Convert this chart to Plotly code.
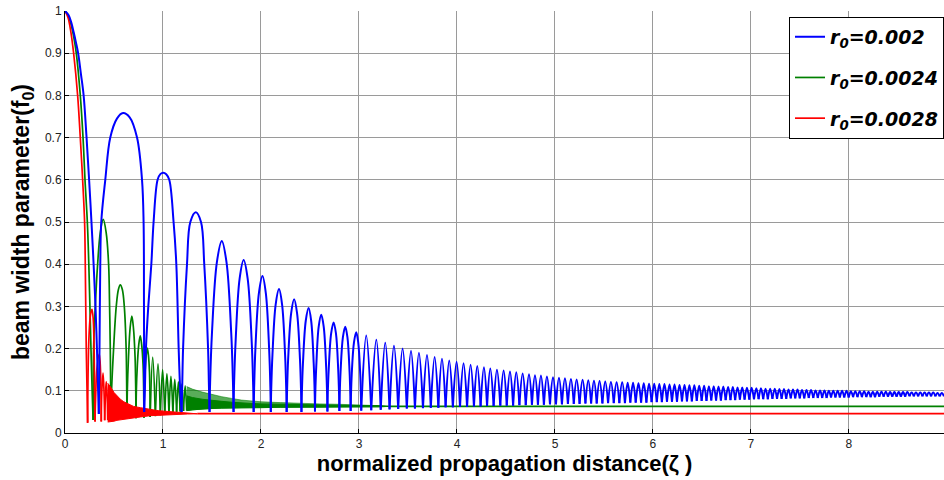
import plotly.graph_objects as go

# ---------------- r0 = 0.002 (blue) ----------------
# opening fall and the first wide lobes, point by point
blue_zeta = [0.000, 0.037, 0.065, 0.088, 0.112, 0.134, 0.163, 0.190, 0.220, 0.246, 0.270, 0.292, 0.311, 0.326, 0.338, 0.345,
             0.352, 0.360, 0.370, 0.411, 0.462, 0.530, 0.592, 0.660, 0.735, 0.786, 0.802, 0.806, 0.808,
             0.815, 0.826, 0.850, 0.881, 0.904, 0.945, 0.975, 1.003, 1.033, 1.064, 1.108, 1.136, 1.160, 1.176, 1.190,
             1.197, 1.205, 1.245, 1.279, 1.335, 1.388, 1.421, 1.460, 1.468, 1.475,
             1.481, 1.500, 1.550, 1.600, 1.648, 1.696, 1.714, 1.720,
             1.725, 1.741, 1.782, 1.823, 1.864, 1.905, 1.920, 1.925,
             1.930, 1.943, 1.979, 2.015, 2.049, 2.083, 2.096, 2.100,
             2.104, 2.117, 2.150, 2.184, 2.215, 2.246, 2.258, 2.262,
             2.266, 2.277, 2.308, 2.338, 2.368, 2.398, 2.409, 2.413,
             2.417, 2.428, 2.457, 2.486, 2.512, 2.538, 2.548, 2.551,
             2.554, 2.564, 2.589, 2.615, 2.640, 2.665, 2.675, 2.678,
             2.681, 2.691, 2.716, 2.741, 2.765, 2.788, 2.797, 2.800,
             2.803, 2.812, 2.836, 2.860, 2.882, 2.904, 2.912, 2.915,
             2.918, 2.926, 2.949, 2.972, 2.992, 3.013, 3.020, 3.023]
blue_f0 = [1.000, 0.990, 0.972, 0.950, 0.925, 0.900, 0.850, 0.800, 0.700, 0.600, 0.500, 0.400, 0.300, 0.200, 0.100, 0.045,
           0.200, 0.400, 0.500, 0.600, 0.700, 0.745, 0.758, 0.748, 0.700, 0.600, 0.500, 0.300, 0.050,
           0.100, 0.200, 0.300, 0.400, 0.500, 0.600, 0.614, 0.617, 0.613, 0.600, 0.500, 0.400, 0.200, 0.100, 0.050,
           0.120, 0.200, 0.400, 0.500, 0.523, 0.500, 0.400, 0.200, 0.120, 0.050,
           0.120, 0.238, 0.405, 0.455, 0.405, 0.238, 0.120, 0.050,
           0.113, 0.217, 0.366, 0.410, 0.366, 0.217, 0.113, 0.050,
           0.106, 0.200, 0.332, 0.372, 0.332, 0.200, 0.106, 0.050,
           0.100, 0.185, 0.305, 0.341, 0.305, 0.185, 0.100, 0.050,
           0.097, 0.174, 0.284, 0.317, 0.284, 0.174, 0.097, 0.050,
           0.093, 0.164, 0.266, 0.296, 0.266, 0.164, 0.093, 0.051,
           0.091, 0.157, 0.252, 0.280, 0.252, 0.157, 0.091, 0.051,
           0.089, 0.150, 0.236, 0.262, 0.236, 0.150, 0.089, 0.052,
           0.087, 0.145, 0.227, 0.252, 0.227, 0.145, 0.087, 0.052,
           0.085, 0.139, 0.215, 0.239, 0.215, 0.139, 0.085, 0.053]

# later lobe tops
blue_peak_zeta = [3.074, 3.177, 3.268, 3.357, 3.445, 3.531, 3.612, 3.694, 3.772, 3.847, 3.921, 3.996,
                  4.067, 4.139, 4.207, 4.275, 4.340, 4.408, 4.476, 4.541, 4.605, 4.670, 4.735, 4.796,
                  4.857, 4.918, 4.980, 5.041, 5.102, 5.163, 5.221, 5.282, 5.340, 5.398, 5.455, 5.513,
                  5.571, 5.629, 5.686, 5.742, 5.797, 5.852, 5.906, 5.960, 6.013, 6.065, 6.117, 6.169,
                  6.220, 6.271, 6.322, 6.372, 6.422, 6.472, 6.522, 6.571, 6.620, 6.669, 6.718, 6.767,
                  6.815, 6.863, 6.911, 6.959, 7.007, 7.055, 7.102, 7.149, 7.196, 7.243, 7.290, 7.337,
                  7.383, 7.429, 7.475, 7.521, 7.567, 7.613, 7.659, 7.705, 7.750, 7.795, 7.840, 7.885,
                  7.930, 7.975, 8.020, 8.065, 8.110, 8.155, 8.200, 8.244, 8.288, 8.332, 8.376, 8.420,
                  8.464, 8.508, 8.552, 8.596, 8.640, 8.684, 8.728, 8.772, 8.816, 8.860, 8.904, 8.948]
blue_peak_f0 = [0.231, 0.221, 0.214, 0.207, 0.200, 0.195, 0.190, 0.185, 0.180, 0.176, 0.172, 0.169,
                0.165, 0.162, 0.159, 0.156, 0.153, 0.150, 0.148, 0.146, 0.144, 0.141, 0.139, 0.137,
                0.136, 0.134, 0.132, 0.131, 0.130, 0.128, 0.127, 0.126, 0.125, 0.124, 0.123, 0.122,
                0.121, 0.120, 0.120, 0.119, 0.119, 0.118, 0.118, 0.117, 0.117, 0.116, 0.116, 0.115,
                0.115, 0.114, 0.114, 0.113, 0.113, 0.112, 0.112, 0.111, 0.111, 0.110, 0.110, 0.109,
                0.109, 0.108, 0.108, 0.107, 0.107, 0.106, 0.106, 0.105, 0.105, 0.105, 0.104, 0.104,
                0.103, 0.103, 0.103, 0.102, 0.102, 0.102, 0.101, 0.101, 0.101, 0.100, 0.100, 0.100,
                0.100, 0.100, 0.099, 0.099, 0.099, 0.099, 0.098, 0.098, 0.098, 0.098, 0.098, 0.097,
                0.097, 0.097, 0.097, 0.097, 0.096, 0.096, 0.096, 0.096, 0.096, 0.096, 0.095, 0.095]

# later cusps between the lobes
blue_cusp_zeta = [3.125, 3.222, 3.312, 3.400, 3.488, 3.571, 3.653, 3.733, 3.810, 3.884, 3.958, 4.031,
                  4.103, 4.173, 4.241, 4.307, 4.374, 4.442, 4.508, 4.573, 4.637, 4.702, 4.765, 4.826,
                  4.887, 4.949, 5.010, 5.071, 5.132, 5.192, 5.251, 5.311, 5.369, 5.426, 5.484, 5.542,
                  5.600, 5.657, 5.714, 5.769, 5.824, 5.879, 5.933, 5.986, 6.039, 6.091, 6.143, 6.194,
                  6.245, 6.296, 6.347, 6.397, 6.447, 6.497, 6.546, 6.595, 6.644, 6.693, 6.742, 6.791,
                  6.839, 6.887, 6.935, 6.983, 7.031, 7.078, 7.125, 7.172, 7.219, 7.266, 7.313, 7.360,
                  7.406, 7.452, 7.498, 7.544, 7.590, 7.636, 7.682, 7.727, 7.772, 7.817, 7.862, 7.907,
                  7.952, 7.997, 8.042, 8.087, 8.132, 8.177, 8.222, 8.266, 8.310, 8.354, 8.398, 8.442,
                  8.486, 8.530, 8.574, 8.618, 8.662, 8.706, 8.750, 8.794, 8.838, 8.882, 8.926, 8.970]
blue_cusp_f0 = [0.054, 0.055, 0.056, 0.057, 0.058, 0.058, 0.059, 0.060, 0.060, 0.061, 0.061, 0.062,
                0.062, 0.063, 0.063, 0.064, 0.064, 0.065, 0.065, 0.065, 0.066, 0.066, 0.067, 0.067,
                0.067, 0.068, 0.068, 0.068, 0.069, 0.069, 0.069, 0.070, 0.070, 0.070, 0.070, 0.071,
                0.071, 0.071, 0.071, 0.072, 0.072, 0.072, 0.072, 0.073, 0.073, 0.073, 0.074, 0.074,
                0.074, 0.075, 0.075, 0.075, 0.076, 0.076, 0.076, 0.077, 0.077, 0.077, 0.078, 0.078,
                0.078, 0.079, 0.079, 0.079, 0.080, 0.080, 0.080, 0.080, 0.081, 0.081, 0.081, 0.081,
                0.082, 0.082, 0.082, 0.082, 0.083, 0.083, 0.083, 0.083, 0.083, 0.084, 0.084, 0.084,
                0.084, 0.084, 0.085, 0.085, 0.085, 0.085, 0.085, 0.085, 0.086, 0.086, 0.086, 0.086,
                0.086, 0.086, 0.086, 0.087, 0.087, 0.087, 0.087, 0.087, 0.087, 0.087, 0.087, 0.087]

# ---------------- r0 = 0.0024 (green) ----------------
green_zeta = [0.000, 0.030, 0.060, 0.088, 0.115, 0.156, 0.184, 0.204, 0.228, 0.243, 0.265, 0.277, 0.287,
              0.292, 0.309, 0.333, 0.360, 0.390, 0.420, 0.445, 0.455, 0.462, 0.469,
              0.475, 0.496, 0.523, 0.545, 0.564, 0.585, 0.605, 0.624, 0.630, 0.633,
              0.636, 0.648, 0.665, 0.682, 0.698, 0.715, 0.722, 0.725,
              0.728, 0.738, 0.753, 0.768, 0.782, 0.797, 0.803, 0.806,
              0.809, 0.817, 0.829, 0.840, 0.851, 0.862, 0.867, 0.869,
              0.895, 0.922, 0.949, 0.973, 0.996, 1.018, 1.040, 1.061, 1.081, 1.101,
              1.120, 1.139, 1.157, 1.175, 1.192, 1.209, 1.226, 1.242]
green_f0 = [1.000, 0.990, 0.970, 0.940, 0.900, 0.800, 0.700, 0.600, 0.500, 0.400, 0.200, 0.100, 0.031,
            0.200, 0.300, 0.400, 0.475, 0.506, 0.475, 0.400, 0.300, 0.200, 0.039,
            0.100, 0.200, 0.300, 0.340, 0.351, 0.340, 0.300, 0.200, 0.100, 0.035,
            0.100, 0.180, 0.250, 0.277, 0.250, 0.180, 0.100, 0.035,
            0.100, 0.160, 0.210, 0.230, 0.210, 0.160, 0.100, 0.036,
            0.090, 0.145, 0.185, 0.201, 0.185, 0.145, 0.090, 0.038,
            0.180, 0.040, 0.164, 0.042, 0.150, 0.044, 0.141, 0.046, 0.134, 0.048,
            0.127, 0.050, 0.121, 0.051, 0.116, 0.052, 0.112, 0.053]
# fast, unresolved ripple: outer tips, dense core top, and floor of the ripple
green_band_zeta = [1.242, 1.300, 1.400, 1.500, 1.600, 1.700, 1.800, 1.900, 2.000, 2.200, 2.400, 2.600, 2.800, 3.000, 3.200, 3.300]
green_band_hi = [0.110, 0.104, 0.097, 0.091, 0.086, 0.082, 0.078, 0.076, 0.074, 0.072, 0.070, 0.069, 0.068, 0.067, 0.066, 0.064]
green_band_mid = [0.088, 0.084, 0.080, 0.077, 0.075, 0.073, 0.071, 0.070, 0.069, 0.068, 0.067, 0.066, 0.066, 0.065, 0.065, 0.064]
green_band_lo = [0.053, 0.055, 0.057, 0.058, 0.059, 0.059, 0.060, 0.060, 0.060, 0.061, 0.061, 0.061, 0.061, 0.062, 0.062, 0.063]
green_tail_zeta = [3.300, 8.970]
green_tail_f0 = [0.063, 0.063]

# ---------------- r0 = 0.0028 (red) ----------------
red_zeta = [0.000, 0.030, 0.060, 0.088, 0.129, 0.156, 0.180, 0.200, 0.207, 0.217, 0.225, 0.231,
            0.236, 0.245, 0.260, 0.275, 0.288, 0.297, 0.302, 0.306,
            0.312, 0.325, 0.350, 0.362, 0.368, 0.370,
            0.376, 0.388, 0.398, 0.405,
            0.413, 0.421, 0.430, 0.436]
red_f0 = [1.000, 0.985, 0.950, 0.900, 0.800, 0.700, 0.600, 0.500, 0.400, 0.200, 0.100, 0.024,
          0.150, 0.230, 0.280, 0.293, 0.270, 0.200, 0.100, 0.027,
          0.080, 0.150, 0.187, 0.150, 0.080, 0.027,
          0.100, 0.142, 0.100, 0.030,
          0.090, 0.122, 0.090, 0.030]
red_band_zeta = [0.436, 0.463, 0.500, 0.530, 0.565, 0.600, 0.666, 0.700, 0.770, 0.870, 0.950, 1.050, 1.150, 1.250, 1.350]
red_band_hi = [0.118, 0.110, 0.096, 0.088, 0.080, 0.074, 0.067, 0.063, 0.060, 0.056, 0.053, 0.051, 0.049, 0.047, 0.0465]
red_band_lo = [0.026, 0.026, 0.028, 0.030, 0.031, 0.033, 0.035, 0.036, 0.038, 0.041, 0.042, 0.043, 0.044, 0.045, 0.0455]
red_tail_zeta = [1.350, 8.970]
red_tail_f0 = [0.046, 0.046]

series_names = ["r<sub>0</sub>=0.002", "r<sub>0</sub>=0.0024", "r<sub>0</sub>=0.0028"]
x_ticks = [0, 1, 2, 3, 4, 5, 6, 7, 8]
y_ticks = [0, 0.1, 0.2, 0.3, 0.4, 0.5, 0.6, 0.7, 0.8, 0.9, 1]

BLUE, GREEN, RED = "#0000ff", "#008000", "#ff0000"

# merge the blue lobe tops and cusps with the opening section, in order of zeta
blue_pts = sorted(list(zip(blue_zeta, blue_f0))
                  + list(zip(blue_peak_zeta, blue_peak_f0))
                  + list(zip(blue_cusp_zeta, blue_cusp_f0)))
blue_x = [p[0] for p in blue_pts]
blue_y = [p[1] for p in blue_pts]


def lobes(xs, ys):
    """Break the curve at every cusp (local minimum) so each lobe is smoothed on its own
    and the cusps stay sharp."""
    ox, oy = [], []
    for i, (x, y) in enumerate(zip(xs, ys)):
        ox.append(x)
        oy.append(y)
        if 0 < i < len(xs) - 1 and y < ys[i - 1] and y < ys[i + 1]:
            ox += [None, x]
            oy += [None, y]
    return ox, oy


def band(zeta, hi, lo):
    return zeta + zeta[::-1], hi + lo[::-1]


fig = go.Figure()

# green: lobes, ripple band, settled level
gx, gy = band(green_band_zeta, green_band_hi, green_band_lo)
fig.add_trace(go.Scatter(x=gx, y=gy, mode="lines", fill="toself", fillcolor="rgba(0,128,0,0.65)",
                         line=dict(color="rgba(0,128,0,0.7)", width=0.8), showlegend=False,
                         hoverinfo="skip", legendgroup="g", legendrank=2))
gx, gy = band(green_band_zeta, green_band_mid, green_band_lo)
fig.add_trace(go.Scatter(x=gx, y=gy, mode="lines", fill="toself", fillcolor=GREEN,
                         line=dict(color=GREEN, width=1), showlegend=False, hoverinfo="skip",
                         legendgroup="g", legendrank=2))
fig.add_trace(go.Scatter(x=green_tail_zeta, y=green_tail_f0, mode="lines",
                         line=dict(color=GREEN, width=1.7), showlegend=False, legendgroup="g", legendrank=2))
lx, ly = lobes(green_zeta, green_f0)
fig.add_trace(go.Scatter(x=lx, y=ly, mode="lines", name="<b><i>" + series_names[1] + "</i></b>",
                         line=dict(color=GREEN, width=1.7, shape="spline", smoothing=1),
                         connectgaps=False, legendrank=2, legendgroup="g"))

# red: lobes, ripple band, settled level
rx, ry = band(red_band_zeta, red_band_hi, red_band_lo)
fig.add_trace(go.Scatter(x=rx, y=ry, mode="lines", fill="toself", fillcolor=RED,
                         line=dict(color=RED, width=1), showlegend=False, hoverinfo="skip",
                         legendgroup="r", legendrank=3))
fig.add_trace(go.Scatter(x=red_tail_zeta, y=red_tail_f0, mode="lines",
                         line=dict(color=RED, width=1.7), showlegend=False, legendgroup="r", legendrank=3))
lx, ly = lobes(red_zeta, red_f0)
fig.add_trace(go.Scatter(x=lx, y=ly, mode="lines", name="<b><i>" + series_names[2] + "</i></b>",
                         line=dict(color=RED, width=1.7, shape="spline", smoothing=1),
                         connectgaps=False, legendrank=3, legendgroup="r"))

# blue on top
lx, ly = lobes(blue_x, blue_y)
fig.add_trace(go.Scatter(x=lx, y=ly, mode="lines", name="<b><i>" + series_names[0] + "</i></b>",
                         line=dict(color=BLUE, width=2, shape="spline", smoothing=1),
                         connectgaps=False, legendrank=1, legendgroup="b"))

axis_font = dict(family="Liberation Sans, Arial, sans-serif", size=12, color="#222222")

fig.update_layout(
    width=944, height=480,
    margin=dict(l=65, r=0, t=11, b=47),
    paper_bgcolor="white", plot_bgcolor="white",
    showlegend=True,
    legend=dict(x=1, xanchor="right", y=0.986, yanchor="top",
                bgcolor="white", bordercolor="black", borderwidth=1,
                font=dict(family="DejaVu Sans, sans-serif", size=19, color="black"),
                tracegroupgap=13, traceorder="grouped"),
    xaxis=dict(range=[0, 8.97], tickvals=x_ticks, ticks="inside", ticklen=4, tickcolor="black",
               showline=True, linecolor="black", linewidth=1,
               showgrid=True, gridcolor="#9a9a9a", gridwidth=1, zeroline=False,
               tickfont=axis_font,
               title=dict(text="<b>normalized propagation distance(ζ )</b>",
                          font=dict(family="Liberation Sans, Arial, sans-serif", size=22, color="black"),
                          standoff=3)),
    yaxis=dict(range=[0, 1], tickvals=y_ticks, ticks="inside", ticklen=4, tickcolor="black",
               showline=True, linecolor="black", linewidth=1,
               showgrid=True, gridcolor="#9a9a9a", gridwidth=1, zeroline=False,
               tickfont=axis_font,
               title=dict(text="<b>beam width parameter(f<sub>0</sub>)</b>",
                          font=dict(family="Liberation Sans, Arial, sans-serif", size=23, color="black"),
                          standoff=8)),
)

fig.write_html("out.html")
